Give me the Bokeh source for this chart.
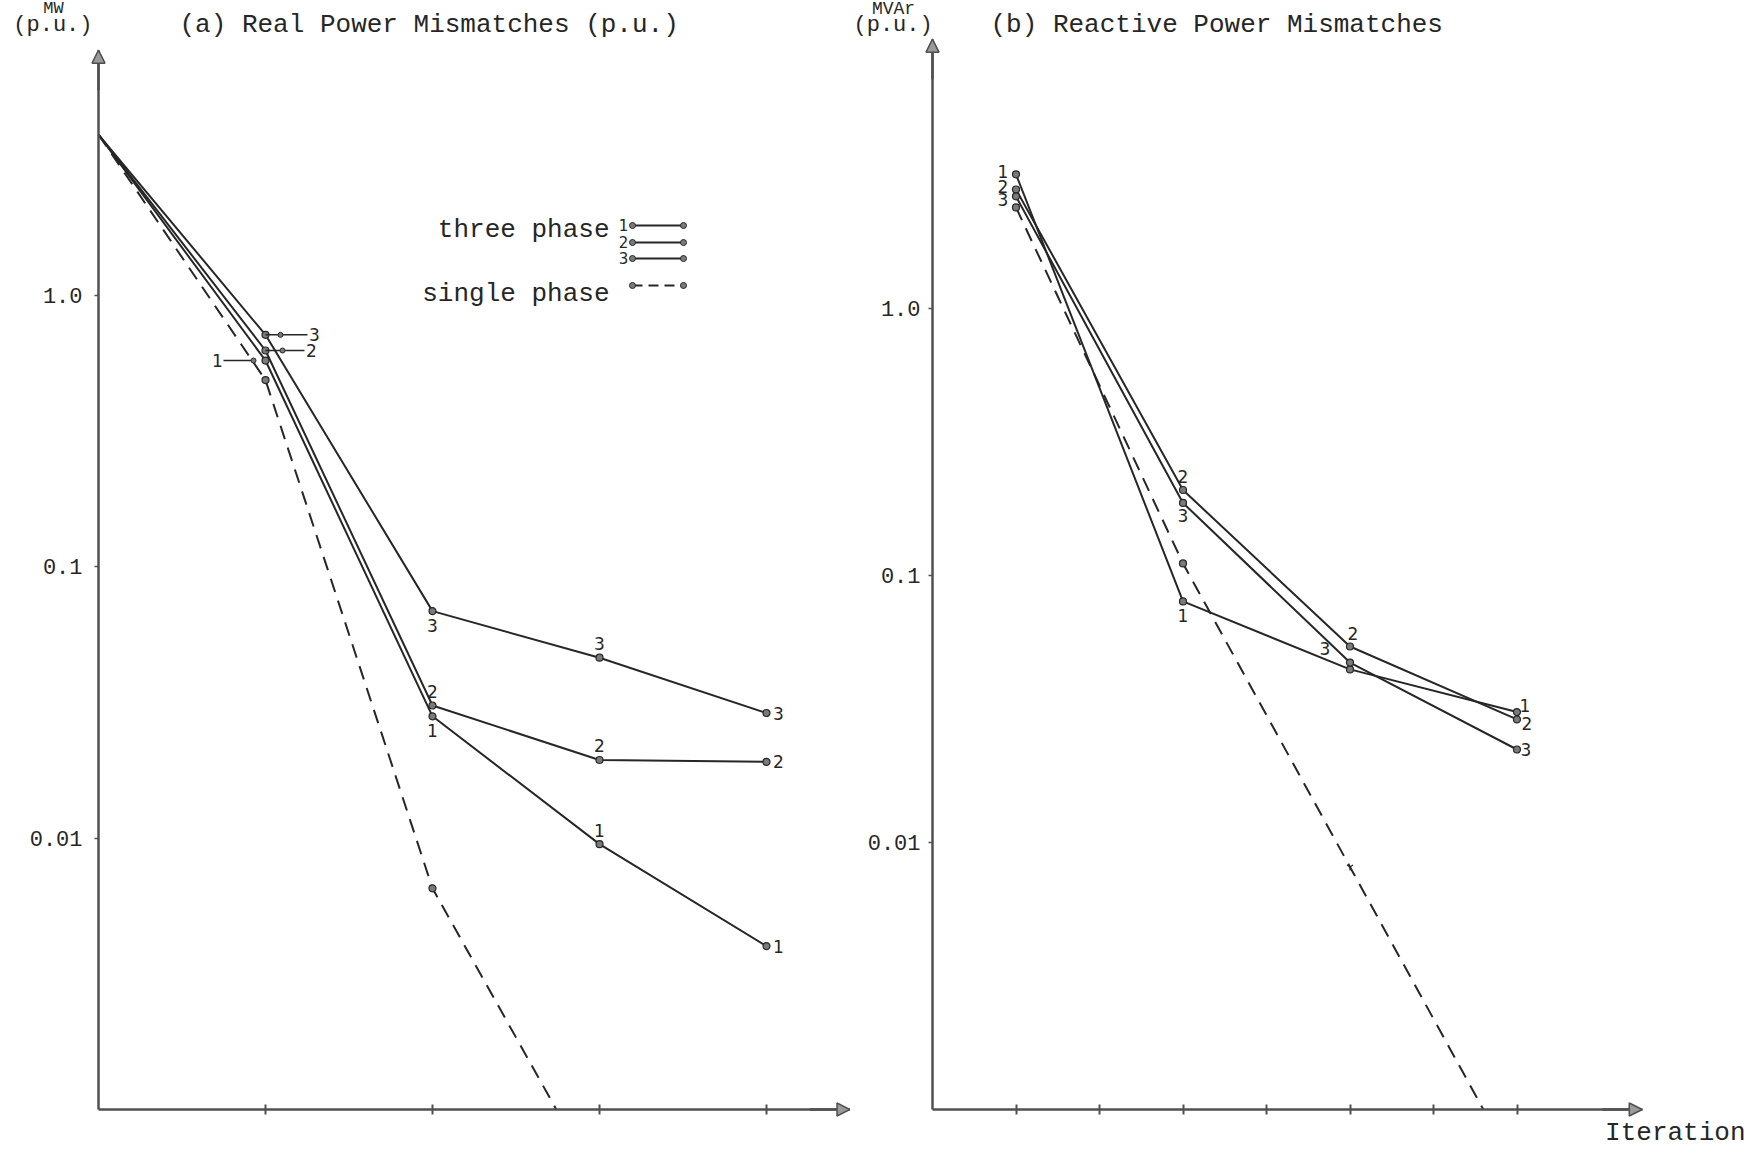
import math
from bokeh.plotting import figure
from bokeh.layouts import row
from bokeh.models import Range1d, FixedTicker, Label, Arrow, NormalHead
from bokeh.core.properties import value
from bokeh.embed import file_html
from bokeh.resources import INLINE

# ---------------- data ----------------
# (a) real power mismatches, p.u., per iteration
iter_p = [0, 1, 2, 3, 4]
p_three_1 = [3.91, 0.575, 0.0281, 0.0095, 0.0040]
p_three_2 = [3.91, 0.626, 0.0308, 0.0194, 0.0191]
p_three_3 = [3.91, 0.715, 0.0686, 0.0462, 0.0289]
iter_p_single = [0, 1, 2, 3]
p_single = [3.91, 0.487, 0.00653, 0.00052]

# (b) reactive power mismatches, p.u., per half iteration
iter_q = [0.5, 1.5, 2.5, 3.5]
q_three_1 = [3.18, 0.080, 0.0445, 0.0308]
q_three_2 = [2.79, 0.209, 0.0542, 0.0289]
q_three_3 = [2.63, 0.187, 0.0472, 0.0223]
q_single = [2.39, 0.111, 0.0081, 0.00059]

y_ticks = [0.01, 0.1, 1.0]
y_tick_labels = ["0.01", "0.1", "1.0"]
x_ticks_p = [1, 2, 3, 4]
x_ticks_q = [0.5, 1.0, 1.5, 2.0, 2.5, 3.0, 3.5]
series_names = ["1", "2", "3"]

# ---------------- style ----------------
INK = "#262626"
AXIS = "#505050"
MARK_FILL = "#7a7a7a"
MONO = "Liberation Mono"
HAND = "DejaVu Sans"
DASH = "14 9"
H = 1147


class Frame:
    """page-pixel <-> data helpers for a log-y canvas-filling frame"""

    def __init__(self, canvas_left, canvas_w, origin_px, px_per_unit, ymin, ymin_py, px_per_decade):
        self.left, self.width = canvas_left, canvas_w
        self.top, self.height = 0, H
        self.ox, self.sx = origin_px, px_per_unit
        self.ly0, self.oy, self.sy = math.log10(ymin), ymin_py, px_per_decade
        self.xr = (self.x(self.left), self.x(self.left + self.width))
        self.yr = (self.y(self.top + self.height), self.y(self.top))

    def px(self, x):
        return self.ox + x * self.sx

    def py(self, y):
        return self.oy - (math.log10(y) - self.ly0) * self.sy

    def x(self, px):
        return (px - self.ox) / self.sx

    def y(self, py):
        return 10 ** (self.ly0 + (self.oy - py) / self.sy)


def make_fig(fr, xticks, ax_x, ax_y, standoff):
    p = figure(width=fr.width, height=H, x_range=Range1d(*fr.xr), y_range=Range1d(*fr.yr),
               y_axis_type="log", output_backend="svg", toolbar_location=None,
               min_border_left=0, min_border_right=0, min_border_top=0, min_border_bottom=0)
    p.grid.visible = False
    p.outline_line_color = None
    p.background_fill_color = "white"
    p.border_fill_color = "white"
    xa = p.xaxis[0]
    xa.fixed_location = ax_y[0]
    xa.bounds = ax_x
    xa.ticker = FixedTicker(ticks=xticks)
    xa.major_label_text_color = None
    xa.major_label_text_font_size = "10px"
    xa.major_tick_in = 5
    xa.major_tick_out = 5
    xa.major_tick_line_width = 2
    xa.major_tick_line_color = AXIS
    xa.minor_tick_line_color = None
    xa.axis_line_width = 2.5
    xa.axis_line_color = AXIS
    ya = p.yaxis[0]
    ya.fixed_location = ax_x[0]
    ya.bounds = ax_y
    ya.ticker = FixedTicker(ticks=y_ticks)
    ya.major_label_overrides = dict(zip(y_ticks, y_tick_labels))
    ya.major_label_text_font = MONO
    ya.major_label_text_font_size = "22px"
    ya.major_label_text_color = INK
    ya.major_label_standoff = standoff
    ya.major_tick_in = 0
    ya.major_tick_out = 4
    ya.major_tick_line_color = AXIS
    ya.major_tick_line_width = 1.5
    ya.minor_tick_line_color = None
    ya.axis_line_width = 2.5
    ya.axis_line_color = AXIS
    # arrow heads at the axis ends
    p.add_layout(Arrow(x_start=ax_x[0], y_start=fr.y(fr.py(ax_y[1]) + 40), x_end=ax_x[0], y_end=ax_y[1],
                       line_color=AXIS, line_width=2.5,
                       end=NormalHead(size=13, fill_color="#9a9a9a", line_color=AXIS, line_width=1.5)))
    p.add_layout(Arrow(x_start=fr.x(fr.px(ax_x[1]) - 40), y_start=ax_y[0], x_end=ax_x[1], y_end=ax_y[0],
                       line_color=AXIS, line_width=2.5,
                       end=NormalHead(size=13, fill_color="#9a9a9a", line_color=AXIS, line_width=1.5)))
    return p


def mask_below_axis(p, fr, ymin):
    # keeps the curves from running under the horizontal axis
    p.quad(left=fr.xr[0], right=fr.xr[1], bottom=fr.yr[0], top=ymin,
           fill_color="white", line_color=None)


def label(p, fr, px, py, text, size, align="left", font=MONO):
    p.add_layout(Label(x=fr.x(px), y=fr.y(py), text=text, text_font=font,
                       text_font_size=f"{size}px", text_color=INK,
                       text_align=align, text_baseline="middle"))


def point_labels(p, fr, xs, ys, text, offsets):
    lx, ly, lt = [], [], []
    for (i, dx, dy) in offsets:
        lx.append(fr.x(fr.px(xs[i]) + dx))
        ly.append(fr.y(fr.py(ys[i]) + dy))
        lt.append(text)
    p.text(lx, ly, text=lt, text_font=value(HAND), text_font_size="17px",
           text_color=INK, text_align="center", text_baseline="middle")


def markers(p, xs, ys, marker="circle"):
    p.scatter(xs, ys, marker=marker, size=7, fill_color=MARK_FILL, line_color=INK, line_width=1.2)


# ================= (a) real power =================
LW, RW = 850, 899
ax_a_x, ax_a_y = (0, 4.5), (0.001, 8.0)
fa = Frame(0, LW, 98, 167.0, ax_a_y[0], 1109, 271.4)
pa = make_fig(fa, x_ticks_p, ax_a_x, ax_a_y, 12)

for ys in (p_three_1, p_three_2, p_three_3):
    pa.line(iter_p, ys, line_color=INK, line_width=2)
    markers(pa, iter_p[1:], ys[1:])
pa.line(iter_p_single, p_single, line_color=INK, line_width=2, line_dash=DASH)
markers(pa, iter_p_single[1:3], p_single[1:3])
mask_below_axis(pa, fa, ax_a_y[0])

# number tags next to the points
point_labels(pa, fa, iter_p, p_three_3, "3", [(2, 0, 14), (3, 0, -14), (4, 12, 0)])
point_labels(pa, fa, iter_p, p_three_2, "2", [(2, 0, -14), (3, 0, -14), (4, 12, 0)])
point_labels(pa, fa, iter_p, p_three_1, "1", [(2, 0, 14), (3, 0, -14), (4, 12, 0)])

# leader lines at iteration 1
lead = [(p_three_3, 42, 15, 49, "3"), (p_three_2, 39, 17, 46, "2"), (p_three_1, -12, -12, -48, "1")]
for ys, end, dot, tpos, t in lead:
    x0 = fa.px(iter_p[1])
    y0 = fa.py(ys[1])
    if end > 0:
        xa0, xa1 = x0, x0 + end
    else:
        xa0, xa1 = x0 - 42, x0 + end
    pa.segment(fa.x(xa0), fa.y(y0), fa.x(xa1), fa.y(y0), line_color=INK, line_width=1.5)
    pa.scatter([fa.x(x0 + dot)], [fa.y(y0)], size=5, fill_color=MARK_FILL, line_color=INK)
    pa.text([fa.x(x0 + tpos)], [fa.y(y0)], text=[t], text_font=value(HAND), text_font_size="17px",
            text_color=INK, text_align="center", text_baseline="middle")

# legend
for name, py in zip(series_names, [225, 242, 258]):
    pa.segment(fa.x(632), fa.y(py), fa.x(683), fa.y(py), line_color=INK, line_width=2)
    pa.scatter([fa.x(632), fa.x(683)], [fa.y(py), fa.y(py)], size=6, fill_color=MARK_FILL, line_color=INK)
    pa.text([fa.x(623)], [fa.y(py - 1)], text=[name], text_font=value(HAND), text_font_size="15px",
            text_color=INK, text_align="center", text_baseline="middle")
pa.segment(fa.x(632), fa.y(285), fa.x(683), fa.y(285), line_color=INK, line_width=2, line_dash="10 6")
pa.scatter([fa.x(632), fa.x(683)], [fa.y(285), fa.y(285)], size=6, fill_color=MARK_FILL, line_color=INK)
label(pa, fa, 609, 229, "three phase", 26, "right")
label(pa, fa, 609, 293, "single phase", 26, "right")

# titles
label(pa, fa, 53, 8, "MW", 17, "center")
label(pa, fa, 92, 25, "(p.u.)", 22, "right")
label(pa, fa, 179, 24, "(a) Real Power Mismatches (p.u.)", 26, "left")

# ================= (b) reactive power =================
ax_b_x, ax_b_y = (0, 4.25), (0.001, 10.2)
fb = Frame(LW, RW, 932, 167.0, ax_b_y[0], 1109, 267.0)
pb = make_fig(fb, x_ticks_q, ax_b_x, ax_b_y, 8)

for ys in (q_three_1, q_three_2, q_three_3):
    pb.line(iter_q, ys, line_color=INK, line_width=2)
    markers(pb, iter_q, ys)
pb.line(iter_q, q_single, line_color=INK, line_width=2, line_dash=DASH)
markers(pb, iter_q[:2], q_single[:2])
markers(pb, iter_q[2:3], q_single[2:3], marker="y")
mask_below_axis(pb, fb, ax_b_y[0])

point_labels(pb, fb, iter_q, q_three_1, "1", [(0, -13, -3), (1, 0, 14), (3, 8, -7)])
point_labels(pb, fb, iter_q, q_three_2, "2", [(0, -13, -3), (1, 0, -14), (2, 3, -13), (3, 10, 4)])
point_labels(pb, fb, iter_q, q_three_3, "3", [(0, -13, 3), (1, 0, 13), (2, -25, -14), (3, 9, 0)])

label(pb, fb, 893, 8, "MVAr", 18, "center")
label(pb, fb, 853, 25, "(p.u.)", 22, "left")
label(pb, fb, 990, 24, "(b) Reactive Power Mismatches", 26, "left")
label(pb, fb, 1745, 1132, "Iteration", 26, "right")

layout = row(pa, pb)
open("out.html", "w").write(file_html(layout, INLINE))
